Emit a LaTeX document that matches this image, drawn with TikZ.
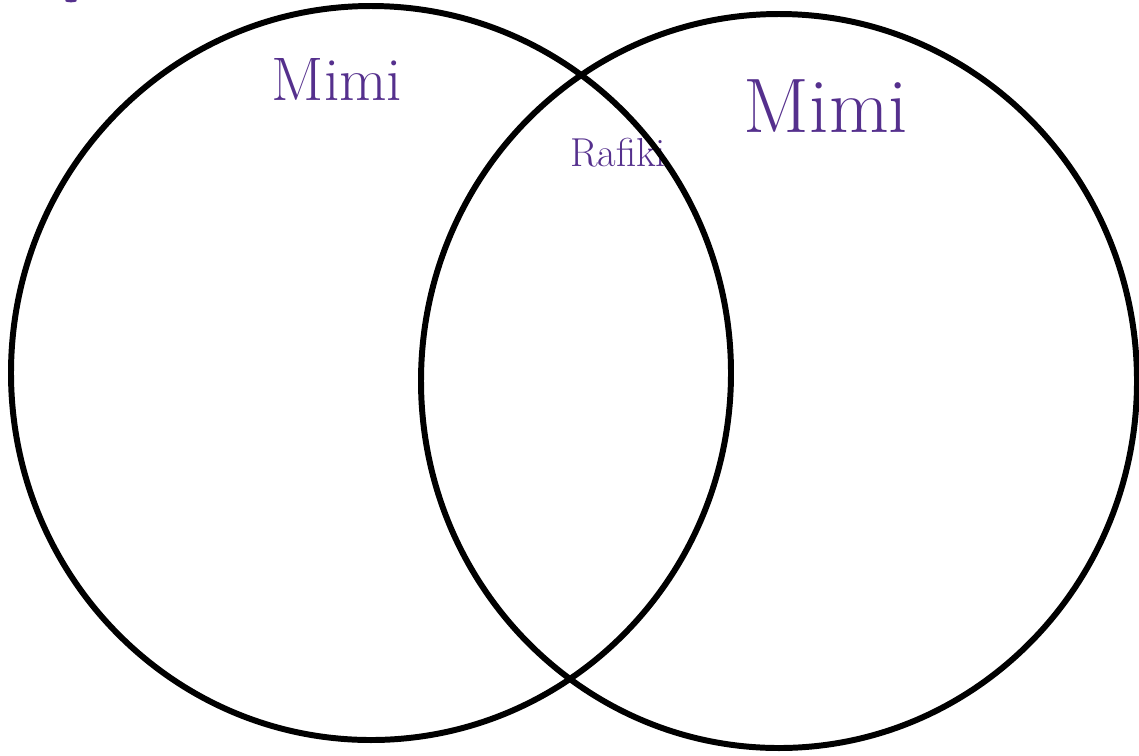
\documentclass[tikz,border=0pt]{standalone}
\usepackage{fontspec}
\setmainfont{Latin Modern Roman}
\definecolor{ink}{HTML}{55308D}
\begin{document}
\begin{tikzpicture}[x=0.02cm,y=-0.02cm,
  ring/.style={draw=black,line width=3.4pt},
  hand/.style={text=ink,inner sep=0pt,anchor=base}]
\useasboundingbox (0,0) rectangle (1139,755);
\node[hand,font=\fontsize{35}{40}\selectfont] (mimiL) at (337,100) {Mimi};
\node[hand,font=\fontsize{44}{48}\selectfont] (mimiR) at (826,132) {Mimi};
\node[hand,font=\fontsize{23}{26}\selectfont] (rafiki) at (618,166) {Rafiki};
\draw[ring] (371,373) ellipse [x radius=360, y radius=367];
\draw[ring] (779,381) ellipse [x radius=358, y radius=367];
\fill[ink] (71,0.8) ellipse [x radius=6, y radius=1.5];
\end{tikzpicture}
\end{document}
